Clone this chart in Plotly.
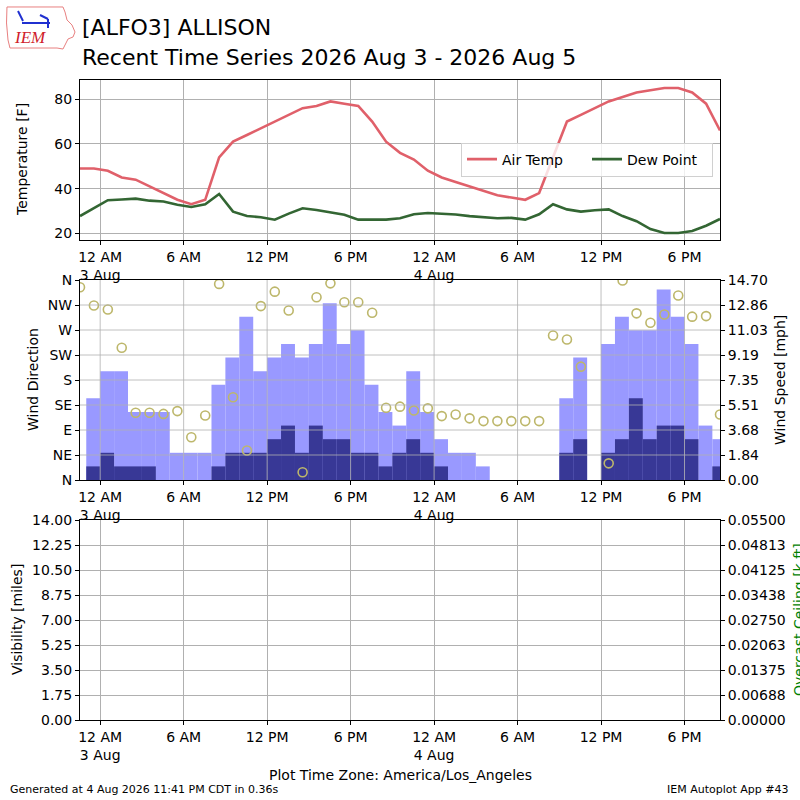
import plotly.graph_objects as go
import pandas as pd

# hourly observations, first one at 22:33 on 2 Aug (local time)
OBS_START = "2026-08-02 22:33"
BAR_START = "2026-08-02 23:00"

air_temp = [49, 49, 48, 45, 44, 41, 38, 35, 33, 35,
            54, 61, 64, 67, 70, 73, 76, 77, 79, 78,
            77, 70, 61, 56, 53, 48, 45, 43, 41, 39,
            37, 36, 35, 38, 54, 70, 73, 76, 79, 81,
            83, 84, 85, 85, 83, 78, 66]
dew_point = [27.7, 31.2, 34.8, 35.1, 35.5, 34.6, 34.2, 32.8, 31.8, 33.0,
             37.6, 29.7, 27.7, 27.2, 26.1, 28.8, 31.2, 30.4, 29.4, 28.3,
             26.1, 26.1, 26.1, 26.7, 28.5, 29.1, 28.8, 28.4, 27.7, 27.2,
             26.7, 26.9, 26.1, 28.5, 33.0, 30.7, 29.7, 30.3, 30.7, 27.7,
             25.4, 21.9, 20.1, 20.1, 21.0, 23.4, 26.4]
wind_dir = [347, 314, 307, 238, 121, 121, 119, 124, 77, 116,
            353, 149, 53, 313, 339, 305, 14, 329, 354, 320,
            320, 301, 130, 132, 125, 129, 115, 118, 111, 106,
            106, 106, 106, 106, 260, 253, 204, None, 30, 359,
            300, 283, 298, 332, 294, 295, 118]

# hourly bars starting 23:00 on 2 Aug
gust_mph = [6, 8, 8, 5, 5, 5, 2, 2, 2, 7,
            9, 12, 8, 9, 10, 9, 10, 13, 10, 11,
            7, 5, 4, 8, 5, 3, 2, 2, 1, 0,
            0, 0, 0, 0, 6, 9, 0, 10, 12, 11,
            11, 14, 12, 10, 4, 3]
speed_mph = [1, 2, 1, 1, 1, 0, 0, 0, 0, 1,
             2, 2, 2, 3, 4, 2, 4, 3, 3, 2,
             2, 1, 2, 3, 2, 1, 0, 0, 0, 0,
             0, 0, 0, 0, 2, 3, 0, 2, 3, 6,
             3, 4, 4, 3, 0, 1]

visibility = []
ceiling = []

time_ticks = ["2026-08-03 00:00", "2026-08-03 06:00", "2026-08-03 12:00",
              "2026-08-03 18:00", "2026-08-04 00:00", "2026-08-04 06:00",
              "2026-08-04 12:00", "2026-08-04 18:00"]
time_labels = ["12 AM<br>3 Aug", "6 AM", "12 PM", "6 PM",
               "12 AM<br>4 Aug", "6 AM", "12 PM", "6 PM"]
temp_ticks = [20, 40, 60, 80]
dir_ticks = [0, 45, 90, 135, 180, 225, 270, 315, 360]
dir_labels = ["N", "NE", "E", "SE", "S", "SW", "W", "NW", "N"]
speed_labels = ["0.00", "1.84", "3.68", "5.51", "7.35",
                "9.19", "11.03", "12.86", "14.70"]
vis_labels = ["0.00", "1.75", "3.50", "5.25", "7.00",
              "8.75", "10.50", "12.25", "14.00"]
ceil_labels = ["0.00000", "0.00688", "0.01375", "0.02063", "0.02750",
               "0.03438", "0.04125", "0.04813", "0.05500"]

SPEED_MAX = 14.7
VIS_MAX = 14.0
CEIL_MAX = 0.055

obs_times = pd.date_range(OBS_START, periods=len(air_temp), freq="h")
bar_times = pd.date_range(BAR_START, periods=len(gust_mph), freq="h")
x_range = [str(obs_times[0]), str(obs_times[-1])]

FONT = "DejaVu Sans"
GRID = "#b0b0b0"


def px(x):
    return (x - 80) / 640


def py(y):
    return (720 - y) / 640


fig = go.Figure()

# temperature panel
fig.add_trace(go.Scatter(x=obs_times, y=air_temp, mode="lines", name="Air Temp",
                         line=dict(color="#e0606a", width=2.6),
                         xaxis="x", yaxis="y"))
fig.add_trace(go.Scatter(x=obs_times, y=dew_point, mode="lines", name="Dew Point",
                         line=dict(color="#336633", width=2.6),
                         xaxis="x", yaxis="y"))

# wind panel
fig.add_trace(go.Bar(x=bar_times, y=gust_mph, width=3600000, offset=0,
                     marker=dict(color="#9999ff", line=dict(width=0)),
                     showlegend=False, xaxis="x2", yaxis="y2"))
fig.add_trace(go.Bar(x=bar_times, y=speed_mph, width=3600000, offset=0,
                     marker=dict(color="#383896", line=dict(width=0)),
                     showlegend=False, xaxis="x2", yaxis="y2"))
fig.add_trace(go.Scatter(x=obs_times, y=wind_dir, mode="markers",
                         marker=dict(symbol="circle-open", size=9, color="#bdb76b",
                                     line=dict(width=1.6, color="#bdb76b")),
                         showlegend=False, xaxis="x2", yaxis="y4"))

# visibility / ceiling panel (no data)
fig.add_trace(go.Scatter(x=visibility, y=visibility, mode="lines", showlegend=False,
                         xaxis="x3", yaxis="y3"))
fig.add_trace(go.Scatter(x=ceiling, y=ceiling, mode="lines", showlegend=False,
                         line=dict(color="green"), xaxis="x3", yaxis="y5"))

tick_font = dict(family=FONT, size=14, color="black")
xcommon = dict(type="date", range=x_range, tickmode="array", tickvals=time_ticks,
               ticktext=time_labels, ticks="outside", ticklen=4, tickcolor="black",
               showline=True, linecolor="black", linewidth=1, mirror=True,
               gridcolor=GRID, gridwidth=0.8, tickfont=tick_font, zeroline=False)
ycommon = dict(ticks="outside", ticklen=4, tickcolor="black", showline=True,
               linecolor="black", linewidth=1, gridcolor=GRID, gridwidth=0.8,
               tickfont=tick_font, zeroline=False, tickmode="array")

shapes = []
for d in dir_ticks[1:-1]:
    shapes.append(dict(type="line", xref="x2 domain", x0=0, x1=1, yref="y4", y0=d, y1=d,
                       line=dict(color=GRID, width=0.8), layer="above"))
for t in time_ticks:
    shapes.append(dict(type="line", xref="x2", x0=t, x1=t, yref="y2 domain", y0=0, y1=1,
                       line=dict(color=GRID, width=0.8), layer="above"))

# IEM logo (rough)
iowa = [(7, 7), (63, 7), (65, 12), (67, 20), (72, 25), (75, 32), (73, 37), (68, 39),
        (65, 45), (63, 49), (57, 48), (10, 48), (8, 40), (6.5, 23)]
path = "M " + " L ".join(f"{px(a):.4f},{py(b):.4f}" for a, b in iowa) + " Z"
shapes.append(dict(type="path", xref="paper", yref="paper", path=path,
                   line=dict(color="#e88080", width=1)))
for (a0, b0, a1, b1) in [(22, 23, 50, 23), (18, 11, 23, 21), (40, 15, 48, 19), (48, 19, 48, 28)]:
    shapes.append(dict(type="line", xref="paper", yref="paper",
                       x0=px(a0), y0=py(b0), x1=px(a1), y1=py(b1),
                       line=dict(color="#2030d0", width=2)))


def label(text, x, y, size=14, color="black", angle=0, xanchor="center", family=FONT):
    return dict(text=text, x=px(x), y=py(y), xref="paper", yref="paper", showarrow=False,
                textangle=angle, xanchor=xanchor, yanchor="middle",
                font=dict(family=family, size=size, color=color))


annotations = [
    label("[ALFO3] ALLISON", 80, 27, size=22, xanchor="left"),
    label("Recent Time Series 2026 Aug 3 - 2026 Aug 5", 80, 57, size=22, xanchor="left"),
    label("<i>IEM</i>", 30, 38, size=17, color="#d0202a", family="Liberation Serif"),
    label("Temperature [F]", 22, 160, angle=-90),
    label("Wind Direction", 33, 380, angle=-90),
    label("Wind Speed [mph]", 780, 380, angle=-90),
    label("Visibility [miles]", 17, 620, angle=-90),
    label("Overcast Ceiling [k ft]", 799, 620, angle=-90, color="green"),
    label("Plot Time Zone: America/Los_Angeles", 400, 775),
    label("Generated at 4 Aug 2026 11:41 PM CDT in 0.36s", 8, 789, size=11, xanchor="left"),
    label("IEM Autoplot App #43", 791, 789, size=11, xanchor="right"),
]

fig.update_layout(
    width=800, height=800,
    margin=dict(l=80, r=80, t=80, b=80),
    paper_bgcolor="white", plot_bgcolor="white",
    font=dict(family=FONT, size=14, color="black"),
    barmode="overlay",
    showlegend=True,
    legend=dict(orientation="h", x=px(713), xanchor="right", y=py(159.5), yanchor="middle",
                bgcolor="rgba(255,255,255,0.8)", bordercolor="#d0d0d0", borderwidth=1,
                font=dict(family=FONT, size=14, color="black"), itemwidth=30,
                entrywidth=80, entrywidthmode="pixels"),
    xaxis=dict(xcommon, anchor="y", domain=[0, 1], showgrid=True),
    xaxis2=dict(xcommon, anchor="y2", domain=[0, 1], showgrid=False),
    xaxis3=dict(xcommon, anchor="y3", domain=[0, 1], showgrid=True),
    yaxis=dict(ycommon, domain=[0.75, 1.0], range=[17, 88.6], tickvals=temp_ticks,
               mirror=True, showgrid=True),
    yaxis2=dict(ycommon, domain=[0.375, 0.6875], anchor="x2", side="right",
                range=[0, SPEED_MAX], tickvals=[SPEED_MAX * i / 8 for i in range(9)],
                ticktext=speed_labels, mirror=True, showgrid=False),
    yaxis4=dict(ycommon, overlaying="y2", anchor="x2", side="left", range=[0, 360],
                tickvals=dir_ticks, ticktext=dir_labels, showline=False, showgrid=False),
    yaxis3=dict(ycommon, domain=[0, 0.3125], anchor="x3", range=[0, VIS_MAX],
                tickvals=[VIS_MAX * i / 8 for i in range(9)], ticktext=vis_labels,
                mirror=True, showgrid=True),
    yaxis5=dict(ycommon, overlaying="y3", anchor="x3", side="right", range=[0, CEIL_MAX],
                tickvals=[CEIL_MAX * i / 8 for i in range(9)], ticktext=ceil_labels,
                showline=False, showgrid=False),
    shapes=shapes,
    annotations=annotations,
)

# drop the page's default body margin so the 800x800 figure fills the window
fig.write_html("out.html", config={"displayModeBar": False},
               post_script="document.body.style.margin = '0';")
